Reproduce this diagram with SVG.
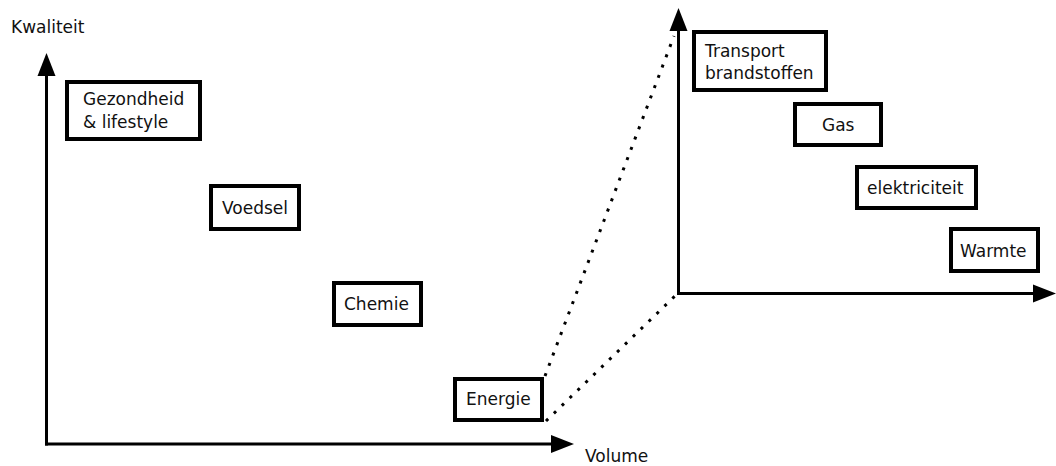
<svg xmlns="http://www.w3.org/2000/svg" width="1056" height="466" viewBox="0 0 1056 466">
<style>
.box{fill:#fff;stroke:#000;stroke-width:4}
.ax{stroke:#000;stroke-width:3;fill:none}
.dot{stroke:#000;stroke-width:3;fill:none;stroke-dasharray:3 8}
text{font-family:"DejaVu Sans",Verdana,sans-serif;font-size:17px;fill:#111}
</style>
<rect width="1056" height="466" fill="#fff"/>
<g id="connectors">
<line class="dot" x1="545" y1="376" x2="674" y2="36"/>
<line class="dot" x1="546" y1="421" x2="676" y2="295"/>
<line class="ax" x1="46.5" y1="445.5" x2="46.5" y2="70"/>
<polygon points="46.5,53 37.5,76 55.5,76"/>
<line class="ax" x1="45" y1="444" x2="556" y2="444"/>
<polygon points="574,444 551,435 551,453"/>
<line class="ax" x1="678.5" y1="294.5" x2="678.5" y2="26"/>
<polygon points="678.5,8 669.5,31 687.5,31"/>
<line class="ax" x1="677" y1="293.5" x2="1038" y2="293.5"/>
<polygon points="1056,293.5 1033,284.5 1033,302.5"/>
</g>
<g id="axis-labels">
<text x="11" y="33">Kwaliteit</text>
<text x="585" y="462">Volume</text>
</g>
<g id="gezondheid"><rect class="box" x="67" y="82" width="133" height="57"/><text x="83" y="105">Gezondheid</text><text x="83" y="128">&amp; lifestyle</text></g>
<g id="voedsel"><rect class="box" x="211" y="186" width="88" height="43"/><text x="222" y="214">Voedsel</text></g>
<g id="chemie"><rect class="box" x="334" y="283" width="87" height="42"/><text x="344" y="310">Chemie</text></g>
<g id="energie"><rect class="box" x="455" y="379" width="87" height="41"/><text x="466" y="405">Energie</text></g>
<g id="transport"><rect class="box" x="694" y="32" width="132" height="58"/><text x="705" y="57">Transport</text><text x="705" y="79">brandstoffen</text></g>
<g id="gas"><rect class="box" x="795" y="104" width="86" height="41"/><text x="822" y="131">Gas</text></g>
<g id="elektriciteit"><rect class="box" x="857" y="167" width="119" height="41"/><text x="867" y="194">elektriciteit</text></g>
<g id="warmte"><rect class="box" x="951" y="229" width="87" height="42"/><text x="960" y="257">Warmte</text></g>
</svg>
